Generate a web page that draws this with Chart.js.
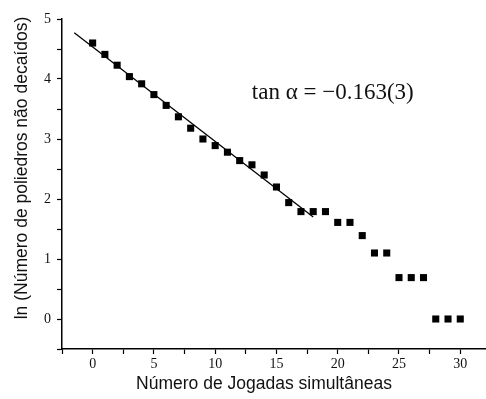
<!DOCTYPE html>
<html>
<head>
<meta charset="utf-8">
<script src="https://cdn.jsdelivr.net/npm/chart.js@4/dist/chart.umd.min.js"></script>
<style>
  html, body { margin: 0; padding: 0; background: #fff; }
  #wrap { width: 486px; height: 399px; }
</style>
</head>
<body>
<div id="wrap"><canvas id="chart" width="486" height="399"></canvas></div>
<script>
// number of simultaneous moves and ln of remaining polyhedra
const jogadas = [0, 1, 2, 3, 4, 5, 6, 7, 8, 9, 10, 11, 12, 13, 14, 15, 16, 17, 18, 19, 20, 21, 22, 23, 24, 25, 26, 27, 28, 29, 30];
const lnPoliedros = [4.60, 4.41, 4.23, 4.04, 3.92, 3.74, 3.56, 3.37, 3.18, 3.00, 2.89, 2.78, 2.64, 2.57, 2.40, 2.20, 1.94, 1.79, 1.79, 1.79, 1.61, 1.61, 1.39, 1.10, 1.10, 0.69, 0.69, 0.69, 0, 0, 0];

// linear fit, endpoints
const fitX = [-1.5, 18];
const fitY = [4.77, 1.70];

const xTicks = [-2.5, 0, 2.5, 5, 7.5, 10, 12.5, 15, 17.5, 20, 22.5, 25, 27.5, 30];
const yTicks = [-0.5, 0, 0.5, 1, 1.5, 2, 2.5, 3, 3.5, 4, 4.5, 5];

const xTitle = 'Número de Jogadas simultâneas';
const yTitle = 'ln (Número de poliedros não decaídos)';
const annotation = 'tan α = \u22120.163(3)';

const pontos = jogadas.map((x, i) => ({ x: x, y: lnPoliedros[i] }));
const reta = fitX.map((x, i) => ({ x: x, y: fitY[i] }));

const textPlugin = {
  id: 'textPlugin',
  afterDraw(chart) {
    const ctx = chart.ctx;
    const xs = chart.scales.x, ys = chart.scales.y;
    ctx.save();
    ctx.fillStyle = '#111';
    ctx.textAlign = 'center';
    ctx.textBaseline = 'middle';
    ctx.font = '17.5px "Liberation Sans", Arial, sans-serif';
    ctx.fillText(xTitle, 264, 384);
    ctx.translate(22, 168);
    ctx.rotate(-Math.PI / 2);
    ctx.fillText(yTitle, 0, 0);
    ctx.restore();

    ctx.save();
    ctx.fillStyle = '#111';
    ctx.textAlign = 'center';
    ctx.textBaseline = 'middle';
    ctx.font = '23px "Liberation Serif", "Times New Roman", serif';
    ctx.fillText(annotation, xs.getPixelForValue(19.6), ys.getPixelForValue(3.77));
    ctx.restore();
  }
};

new Chart(document.getElementById('chart'), {
  type: 'scatter',
  data: {
    datasets: [
      {
        data: pontos,
        backgroundColor: '#000',
        borderColor: '#000',
        pointStyle: 'rect',
        pointRadius: 5,
        pointHoverRadius: 5,
        borderWidth: 0
      },
      {
        type: 'line',
        data: reta,
        borderColor: '#000',
        borderWidth: 1.3,
        pointRadius: 0,
        fill: false
      }
    ]
  },
  options: {
    responsive: false,
    animation: false,
    events: [],
    layout: { autoPadding: false, padding: { top: 19, right: 0, left: 0, bottom: 0 } },
    plugins: { legend: { display: false }, tooltip: { enabled: false } },
    scales: {
      x: {
        type: 'linear',
        min: -2.5,
        max: 32.1,
        afterBuildTicks: (scale) => { scale.ticks = xTicks.map(v => ({ value: v })); },
        afterFit: (scale) => { scale.height = 50; },
        border: { display: true, color: '#000', width: 1.5 },
        grid: { display: true, drawOnChartArea: false, drawTicks: true, tickLength: 5, tickColor: '#000', tickWidth: 1.2 },
        ticks: {
          autoSkip: false,
          maxRotation: 0,
          padding: 2,
          color: '#111',
          font: { family: '"Liberation Serif", "Times New Roman", serif', size: 14 },
          callback: (v) => (v % 5 === 0 ? String(v) : '')
        }
      },
      y: {
        type: 'linear',
        min: -0.5,
        max: 5,
        afterBuildTicks: (scale) => { scale.ticks = yTicks.map(v => ({ value: v })); },
        afterFit: (scale) => { scale.width = 62; },
        border: { display: true, color: '#000', width: 1.5 },
        grid: { display: true, drawOnChartArea: false, drawTicks: true, tickLength: 5, tickColor: '#000', tickWidth: 1.2 },
        ticks: {
          autoSkip: false,
          padding: 6,
          color: '#111',
          font: { family: '"Liberation Serif", "Times New Roman", serif', size: 14 },
          callback: (v) => (Number.isInteger(v) ? String(v) : '')
        }
      }
    }
  },
  plugins: [textPlugin]
});
</script>
</body>
</html>
